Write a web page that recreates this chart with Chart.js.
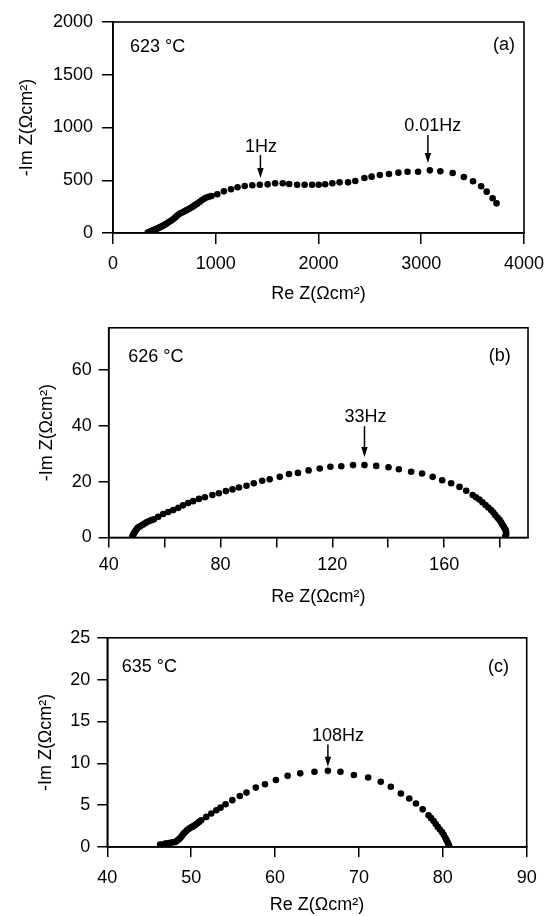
<!DOCTYPE html>
<html><head><meta charset="utf-8">
<script src="https://cdn.jsdelivr.net/npm/chart.js@4.4.1/dist/chart.umd.min.js"></script>
<style>
html,body{margin:0;padding:0;background:#fff;}
#wrap{position:relative;width:553px;height:916px;overflow:hidden;background:#fff;}
.pane{position:absolute;left:0;width:553px;}
.pane canvas{display:block;}
</style></head><body>
<div id="wrap">
<div class="pane" style="top:0;height:310px"><canvas id="ca" width="553" height="310"></canvas></div>
<div class="pane" style="top:310px;height:310px"><canvas id="cb" width="553" height="310"></canvas></div>
<div class="pane" style="top:620px;height:296px"><canvas id="cc" width="553" height="296"></canvas></div>
</div>
<script>
// ---------- data ----------
const xTitle = 'Re Z(Ωcm²)';
const yTitle = '-Im Z(Ωcm²)';

// panel (a) 623 °C
const aRe = [337,342,347,353,360,368,376,385,395,405,416,428,440,453,466,480,495,510,526,543,560,578,596,614,633,652,672,692,712,733,754,776,798,820,842,864,887,910,934,958,1015,1079,1149,1212,1282,1356,1429,1505,1578,1652,1715,1792,1865,1938,2002,2065,2135,2205,2288,2358,2447,2517,2597,2686,2778,2867,2969,3084,3186,3306,3415,3504,3583,3637,3695,3733];
const aIm = [0,3,6,9,12,16,19,23,27,31,36,41,47,53,59,66,74,83,93,104,114,126,140,155,170,184,194,204,214,224,236,250,264,278,294,310,324,336,344,351,367,395,414,433,445,452,458,461,471,471,464,458,458,458,458,462,471,480,480,493,521,534,550,559,572,581,581,594,585,569,531,490,443,392,329,281];
const aXTicks = [0,1000,2000,3000,4000];
const aYTicks = [0,500,1000,1500,2000];

// panel (b) 626 °C
const bRe = [48.4,48.5,48.8,49.0,49.4,49.8,50.2,50.7,51.4,52.2,53.0,53.7,54.5,55.3,56.2,57.7,59.5,61.3,63.1,64.9,66.6,68.4,70.2,72.3,74.4,77.1,79.4,81.9,84.3,86.6,89.3,91.9,94.9,97.6,101.2,104.5,107.7,111.5,115.5,119.3,123.2,127.4,131.5,135.7,140.1,143.8,148.2,152.1,155.9,159.3,162.5,165.5,167.9,170.2,171.4,172.6,173.7,174.8,175.8,176.8,177.6,178.3,179.1,179.8,180.4,180.9,181.4,181.9,182.1,182.2,182.1,181.9];
const bIm = [0,0.5,1.0,1.5,2.1,2.7,3.3,3.7,4.1,4.6,5.1,5.5,5.9,6.2,6.5,7.4,8.4,9.1,9.8,10.6,11.5,12.3,13.0,13.8,14.4,15.2,15.8,16.6,17.2,17.9,18.5,19.4,20.3,20.8,21.7,22.7,23.1,24.0,24.7,25.3,25.5,25.9,25.9,25.6,25.1,24.4,23.5,22.9,21.7,20.5,19.4,18.1,16.7,15.2,14.4,13.6,12.6,11.6,10.7,9.8,8.9,8.0,7.1,6.3,5.4,4.5,3.7,2.9,2.2,1.5,0.8,0.3];
const bXTicks = [40,80,120,160];
const bYTicks = [0,20,40,60];

// panel (c) 635 °C
const cRe = [46.3,46.6,46.9,47.2,47.5,47.8,48.1,48.3,48.5,48.65,48.8,48.95,49.1,49.3,49.5,49.7,49.9,50.1,50.3,50.5,50.7,50.95,51.2,51.8,52.4,53.0,53.5,54.1,54.9,55.8,56.6,57.7,58.8,60.1,61.5,63.0,64.7,66.3,67.8,69.4,71.1,72.6,73.8,75.0,76.0,76.8,77.6,78.3,78.6,78.9,79.15,79.4,79.65,79.9,80.1,80.3,80.45,80.6,80.7,80.8];
const cIm = [0.3,0.3,0.4,0.45,0.5,0.55,0.6,0.75,0.9,1.05,1.2,1.4,1.6,1.8,2.0,2.15,2.3,2.4,2.5,2.65,2.8,3.0,3.2,3.6,4.0,4.4,4.7,5.1,5.6,6.1,6.5,7.1,7.5,8.0,8.5,8.8,9.0,9.1,9.0,8.6,8.3,7.8,7.2,6.4,5.8,5.2,4.5,3.8,3.45,3.1,2.75,2.4,2.1,1.8,1.45,1.1,0.8,0.5,0.25,0.0];
const cXTicks = [40,50,60,70,80,90];
const cYTicks = [0,5,10,15,20,25];

// frequency markers: label, value position of label/arrow
const aFreq = [{t:'1Hz', tx:1440, ty:768, ax:1435, top:739, tip:521},
               {t:'0.01Hz', tx:3112, ty:967, ax:3065, top:929, tip:664}];
const bFreq = [{t:'33Hz', tx:131.9, ty:41.2, ax:131.5, top:39.8, tip:28.8}];
const cFreq = [{t:'108Hz', tx:67.5, ty:12.7, ax:66.3, top:12.25, tip:9.6}];

// ---------- drawing ----------
const FONT = "'Liberation Sans', Arial, Helvetica, sans-serif";
Chart.defaults.font.family = FONT;
Chart.defaults.color = '#000';

function annotPlugin(p) {
  return {
    id: 'annot',
    afterDatasetsDraw(chart) {
      const ctx = chart.ctx, a = chart.chartArea;
      const xs = chart.scales.x, ys = chart.scales.y;
      ctx.save();
      ctx.strokeStyle = '#000';
      ctx.lineWidth = 1.6;
      ctx.strokeRect(a.left, a.top, a.right - a.left, a.bottom - a.top);
      ctx.fillStyle = '#000';
      ctx.font = '18px ' + FONT;
      ctx.textBaseline = 'alphabetic';
      ctx.textAlign = 'left';
      ctx.fillText(p.temp, a.left + p.tempDx, a.top + p.tempDy);
      ctx.textAlign = 'right';
      ctx.fillText(p.tag, a.right - p.tagDx, a.top + p.tagDy);
      ctx.textAlign = 'center';
      p.freq.forEach(f => {
        ctx.fillText(f.t, xs.getPixelForValue(f.tx), ys.getPixelForValue(f.ty));
        const x = xs.getPixelForValue(f.ax);
        const y1 = ys.getPixelForValue(f.top), y2 = ys.getPixelForValue(f.tip);
        ctx.lineWidth = 1.5;
        ctx.beginPath(); ctx.moveTo(x, y1); ctx.lineTo(x, y2 - 8); ctx.stroke();
        ctx.beginPath(); ctx.moveTo(x - 3.2, y2 - 10); ctx.lineTo(x + 3.2, y2 - 10); ctx.lineTo(x, y2); ctx.closePath(); ctx.fill();
      });
      ctx.restore();
    }
  };
}

function makePanel(id, p) {
  const font = {family: FONT, size: 18};
  const tickCb = list => v => list.some(t => Math.abs(t - v) < 1e-9) ? String(v) : '';
  new Chart(document.getElementById(id), {
    type: 'scatter',
    data: {datasets: [{
      data: p.re.map((x, i) => ({x: x, y: p.im[i]})),
      pointRadius: 3.3, pointHoverRadius: 3.3, pointBorderWidth: 0,
      backgroundColor: '#000', borderColor: '#000'
    }]},
    options: {
      responsive: false, animation: false, events: [],
      layout: {padding: {left: 0, top: p.area.top, right: 553 - p.area.right, bottom: 0}},
      plugins: {legend: {display: false}, tooltip: {enabled: false}},
      scales: {
        x: {
          type: 'linear', position: 'bottom', min: p.xMin, max: p.xMax, offset: false,
          afterFit: s => { s.height = p.h - p.area.bottom; },
          ticks: {stepSize: p.xStep, includeBounds: false, autoSkip: false, maxRotation: 0,
                  padding: p.xTickPad, color: '#000', font: font, callback: tickCb(p.xTicks)},
          grid: {drawOnChartArea: false, drawTicks: true, tickLength: p.xTickLen, color: '#000', lineWidth: 1.5},
          border: {display: true, color: '#000', width: 1.6},
          title: {display: true, text: xTitle, color: '#000', font: font, padding: {top: 0, bottom: p.xTitlePad}}
        },
        y: {
          type: 'linear', position: 'left', min: p.yMin, max: p.yMax, offset: false,
          afterFit: s => { s.width = p.area.left; },
          ticks: {stepSize: p.yStep, includeBounds: false, autoSkip: false,
                  padding: p.yTickPad, color: '#000', font: font, callback: tickCb(p.yTicks)},
          grid: {drawOnChartArea: false, drawTicks: true, tickLength: p.yTickLen, color: '#000', lineWidth: 1.5},
          border: {display: true, color: '#000', width: 1.6},
          title: {display: true, text: yTitle, color: '#000', font: font, padding: {top: p.yTitlePad, bottom: 0}}
        }
      }
    },
    plugins: [annotPlugin(p)]
  });
}

makePanel('ca', {
  re: aRe, im: aIm, h: 310,
  area: {left: 113, right: 532, top: 22, bottom: 233},
  xMin: 0, xMax: 4000, xStep: 1000, xTicks: aXTicks,
  yMin: 0, yMax: 2000, yStep: 500, yTicks: aYTicks,
  xTickLen: 11, xTickPad: 9, xTitlePad: 4.7,
  yTickLen: 11, yTickPad: 9, yTitlePad: 16.7,
  temp: '623 °C', tempDx: 17, tempDy: 30, tag: '(a)', tagDx: 9, tagDy: 27.5,
  freq: aFreq
});
makePanel('cb', {
  re: bRe, im: bIm, h: 310,
  area: {left: 108.7, right: 528, top: 17.5, bottom: 227.5},
  xMin: 40, xMax: 190, xStep: 20, xTicks: bXTicks,
  yMin: 0, yMax: 75, yStep: 20, yTicks: bYTicks,
  xTickLen: 10, xTickPad: 7, xTitlePad: 11.7,
  yTickLen: 10, yTickPad: 7, yTitlePad: 36.7,
  temp: '626 °C', tempDx: 19.6, tempDy: 34, tag: '(b)', tagDx: 17.3, tagDy: 33,
  freq: bFreq
});
makePanel('cc', {
  re: cRe, im: cIm, h: 296,
  area: {left: 107.3, right: 526.7, top: 13, bottom: 227},
  xMin: 40, xMax: 90, xStep: 10, xTicks: cXTicks,
  yMin: 0, yMax: 25, yStep: 5, yTicks: cYTicks,
  xTickLen: 10, xTickPad: 10, xTitlePad: 0.5,
  yTickLen: 10, yTickPad: 7, yTitlePad: 35.2,
  temp: '635 °C', tempDx: 14.4, tempDy: 33.7, tag: '(c)', tagDx: 17.7, tagDy: 33.7,
  freq: cFreq
});
</script>
</body></html>
